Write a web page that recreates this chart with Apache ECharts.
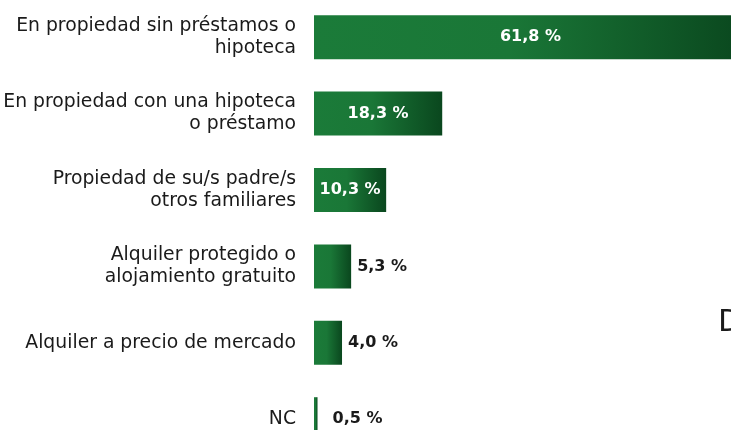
<!DOCTYPE html>
<html>
<head>
<meta charset="utf-8">
<style>html,body{margin:0;padding:0;background:#fff;}#c{width:731px;height:430px;}</style>
<script src="https://cdn.jsdelivr.net/npm/echarts@6/dist/echarts.min.js"></script>
</head>
<body>
<div id="c"></div>
<script>
const categories = [
  "En propiedad sin préstamos o\nhipoteca",
  "En propiedad con una hipoteca\no préstamo",
  "Propiedad de su/s padre/s\notros familiares",
  "Alquiler protegido o\nalojamiento gratuito",
  "Alquiler a precio de mercado",
  "NC"
];
const values = [61.8, 18.3, 10.3, 5.3, 4.0, 0.5];
const valueLabels = ["61,8 %", "18,3 %", "10,3 %", "5,3 %", "4,0 %", "0,5 %"];

const chart = echarts.init(document.getElementById('c'), null, {renderer: 'canvas'});
const grad = new echarts.graphic.LinearGradient(0, 0, 1, 0, [
  {offset: 0, color: '#1b7b39'},
  {offset: 0.45, color: '#1a7737'},
  {offset: 1, color: '#0a471e'}
]);
const data = values.map((v, i) => {
  const inside = v > 8;
  return {
    value: v,
    label: {
      show: true,
      position: inside ? 'inside' : 'right',
      distance: inside ? 5 : (v < 1 ? 15 : 6),
      color: inside ? '#ffffff' : '#1a1a1a',
      formatter: () => valueLabels[i]
    }
  };
});
chart.setOption({
  animation: false,
  grid: {left: 314, top: -1, width: 433, height: 458.4, containLabel: false, outerBoundsMode: 'none'},
  xAxis: {type: 'value', min: 0, max: 61.8, show: false},
  yAxis: {
    type: 'category',
    inverse: true,
    data: categories,
    axisLine: {show: false},
    axisTick: {show: false},
    axisLabel: {
      margin: 18,
      align: 'right',
      fontFamily: 'DejaVu Sans',
      fontSize: 18.8,
      lineHeight: 22,
      color: '#1a1a1a'
    }
  },
  series: [{
    type: 'bar',
    data: data,
    barWidth: 44,
    itemStyle: {color: grad},
    label: {
      fontFamily: 'DejaVu Sans',
      fontWeight: 'bold',
      fontSize: 16
    }
  }],
  graphic: [{
    type: 'text',
    left: 718,
    top: 307,
    style: {text: 'D', fontFamily: 'DejaVu Sans', fontWeight: 'normal', fontSize: 31, fill: '#1a1a1a'}
  }]
});
</script>
</body>
</html>
